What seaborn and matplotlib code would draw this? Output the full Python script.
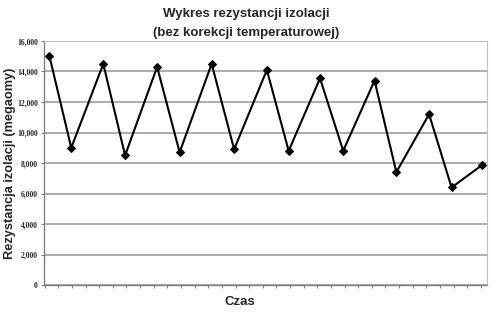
import matplotlib
matplotlib.use("Agg")
import matplotlib.pyplot as plt
import seaborn as sns
import pandas as pd
import numpy as np

# Data
time_pos = [0.35, 1.95, 4.3, 5.9, 8.25, 9.9, 12.25, 13.9, 16.3, 17.9,
            20.2, 21.9, 24.2, 25.8, 28.2, 29.85, 32.1]
resistance = [15000, 9000, 14500, 8500, 14300, 8700, 14500, 8900, 14100, 8800,
              13550, 8800, 13400, 7400, 11200, 6400, 7870]
y_ticks = [0, 2000, 4000, 6000, 8000, 10000, 12000, 14000, 16000]
y_tick_labels = ["0", "2,000", "4,000", "6,000", "8,000", "10,000", "12,000", "14,000", "16,000"]
title_lines = ["Wykres rezystancji izolacji", "(bez korekcji temperaturowej)"]
x_label = "Czas"
y_label = "Rezystancja izolacji (megaomy)"

df = pd.DataFrame({"t": time_pos, "r": resistance})

sns.set_theme(style="white")
plt.rcParams["font.family"] = ["Liberation Sans", "DejaVu Sans"]

fig = plt.figure(figsize=(5, 3.2), dpi=100)
ax = fig.add_axes([0.088, 0.109, 0.886, 0.763])

sns.lineplot(data=df, x="t", y="r", ax=ax, color="black", linewidth=1.5,
             marker="D", markersize=4.5, markeredgecolor="black",
             markerfacecolor="black", estimator=None, sort=False)

ax.set_xlim(-0.05, 32.45)
ax.set_ylim(0, 16000)
ax.set_yticks(y_ticks)
ax.set_yticklabels(y_tick_labels, fontfamily="Liberation Serif",
                   fontweight="bold", fontsize=5.5)
ax.set_xticks(np.arange(0, 33))
ax.set_xticklabels([])
ax.tick_params(axis="y", which="major", direction="out", length=2.5,
               width=0.8, color="#808080", pad=2, left=True)
ax.tick_params(axis="x", which="major", direction="out", length=2.5,
               width=0.8, color="#808080", bottom=True)

ax.yaxis.grid(True, color="#a0a0a0", linewidth=1.2)
ax.set_axisbelow(True)

for side in ["left", "bottom"]:
    ax.spines[side].set_color("#808080")
    ax.spines[side].set_linewidth(1.0)
for side in ["top", "right"]:
    ax.spines[side].set_visible(True)
    ax.spines[side].set_color("#c0c0c0")
    ax.spines[side].set_linewidth(0.8)
    ax.spines[side].set_linestyle((0, (1, 1)))

ax.set_xlabel("")
ax.set_ylabel("")
fig.text(0.008, 0.489, y_label, rotation=90, ha="left", va="center",
         fontsize=9.2, fontweight="bold")
fig.text(0.48, 0.056, x_label, ha="center", va="center",
         fontsize=9.5, fontweight="bold")
fig.text(0.492, 0.947, title_lines[0], ha="center", va="baseline",
         fontsize=9.5, fontweight="bold")
fig.text(0.492, 0.889, title_lines[1], ha="center", va="baseline",
         fontsize=9.5, fontweight="bold")

fig.savefig("out.png", dpi=100)
